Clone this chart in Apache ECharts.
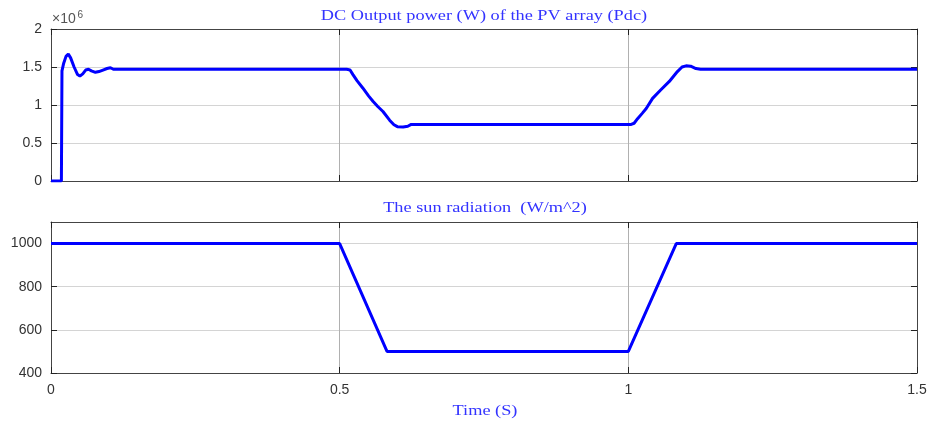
<!DOCTYPE html>
<html>
<head>
<meta charset="utf-8">
<script src="https://cdn.jsdelivr.net/npm/echarts@6/dist/echarts.min.js"></script>
<style>
html,body{margin:0;padding:0;background:#fff;}
#c{width:932px;height:423px;}
</style>
</head>
<body>
<div id="c"></div>
<script>
// ---- data ----
var powerTime = [0, 0.018, 0.019, 0.022, 0.026, 0.030, 0.034, 0.040, 0.046, 0.050, 0.055, 0.060, 0.065, 0.070, 0.077, 0.083, 0.090, 0.097, 0.103, 0.108,
  0.512, 0.518, 0.523, 0.530, 0.540, 0.550, 0.558, 0.566, 0.575, 0.5865, 0.594, 0.600, 0.610, 0.618, 0.624,
  1.005, 1.010, 1.016, 1.024, 1.031, 1.042, 1.056, 1.071, 1.085, 1.093, 1.100, 1.108, 1.117, 1.125, 1.5];
var powerValue = [0, 0, 1.45, 1.55, 1.64, 1.67, 1.62, 1.50, 1.40, 1.38, 1.41, 1.46, 1.47, 1.45, 1.43, 1.44, 1.46, 1.48, 1.49, 1.47,
  1.47, 1.46, 1.40, 1.32, 1.224, 1.12, 1.046, 0.98, 0.914, 0.80, 0.74, 0.715, 0.71, 0.72, 0.745,
  0.745, 0.76, 0.82, 0.89, 0.953, 1.087, 1.197, 1.31, 1.44, 1.50, 1.515, 1.51, 1.48, 1.47, 1.47];
var radTime = [0, 0.5, 0.582, 1.0, 1.083, 1.5];
var radValue = [1000, 1000, 500, 500, 1000, 1000];
var xTicks = [0, 0.5, 1, 1.5];
var powerTicks = [0, 0.5, 1, 1.5, 2];
var radTicks = [400, 600, 800, 1000];
var titles = ['DC Output power (W) of the PV array (Pdc)', 'The sun radiation  (W/m^2)', 'Time (S)'];

function pairs(t, v) { return t.map(function (x, i) { return [x, v[i]]; }); }

var labelFont = {fontFamily: 'Liberation Sans, Arial, sans-serif', fontSize: 14, color: '#333'};
var axisLineCol = '#444';
var serif = '15px "Liberation Serif", "Times New Roman", serif';

function xAx(grid, pos, labels) {
  return {
    type: 'value', gridIndex: grid, position: pos, min: 0, max: 1.5, interval: 0.5,
    axisLine: {show: true, onZero: false, lineStyle: {color: axisLineCol, width: 1}},
    axisTick: {show: true, inside: true, length: 6, lineStyle: {color: '#222'}},
    axisLabel: labels ? Object.assign({show: true, margin: 10, formatter: function (v) { return String(v); }}, labelFont) : {show: false},
    splitLine: {show: pos === 'bottom', lineStyle: {color: '#b0b0b0', width: 1}}
  };
}
function yAx(grid, pos, min, max, interval, labels, hideMax) {
  return {
    type: 'value', gridIndex: grid, position: pos, min: min, max: max, interval: interval,
    axisLine: {show: true, onZero: false, lineStyle: {color: axisLineCol, width: 1}},
    axisTick: {show: true, inside: true, length: 6, lineStyle: {color: '#222'}},
    axisLabel: labels ? Object.assign({show: true, margin: 9, showMaxLabel: !hideMax, formatter: function (v) { return String(v); }}, labelFont) : {show: false},
    splitLine: {show: pos === 'left', lineStyle: {color: '#d4d4d4', width: 1}}
  };
}
function titleText(txt, x, y) {
  return {type: 'text', x: x, y: y, scaleX: 1.22, silent: true,
    style: {text: txt, font: serif, fill: '#3333ff', align: 'center', verticalAlign: 'middle'}};
}

var chart = echarts.init(document.getElementById('c'), null, {renderer: 'canvas'});
chart.setOption({
  animation: false,
  backgroundColor: '#fff',
  graphic: [
    titleText(titles[0], 484, 16.5),
    titleText(titles[1], 485, 208.5),
    titleText(titles[2], 485, 411),
    {type: 'text', x: 52, y: 26, silent: true,
      style: {text: '\u00d710', font: '14px "Liberation Sans", Arial, sans-serif', fill: '#555', align: 'left', verticalAlign: 'bottom'}},
    {type: 'text', x: 77.5, y: 20, silent: true,
      style: {text: '6', font: '10px "Liberation Sans", Arial, sans-serif', fill: '#555', align: 'left', verticalAlign: 'bottom'}}
  ],
  grid: [
    {left: 51, right: 15, top: 29, height: 152},
    {left: 51, right: 15, top: 222, height: 151}
  ],
  xAxis: [
    xAx(0, 'bottom', false), xAx(0, 'top', false),
    xAx(1, 'bottom', true), xAx(1, 'top', false)
  ],
  yAxis: [
    yAx(0, 'left', 0, 2, 0.5, true, false), yAx(0, 'right', 0, 2, 0.5, false, false),
    yAx(1, 'left', 400, 1100, 200, true, true), yAx(1, 'right', 400, 1100, 200, false, true)
  ],
  series: [
    {type: 'line', xAxisIndex: 0, yAxisIndex: 0, data: pairs(powerTime, powerValue), showSymbol: false,
      lineStyle: {color: '#0000ff', width: 3}, itemStyle: {color: '#0000ff'}},
    {type: 'line', xAxisIndex: 2, yAxisIndex: 2, data: pairs(radTime, radValue), showSymbol: false,
      lineStyle: {color: '#0000ff', width: 3}, itemStyle: {color: '#0000ff'}}
  ]
});
</script>
</body>
</html>
